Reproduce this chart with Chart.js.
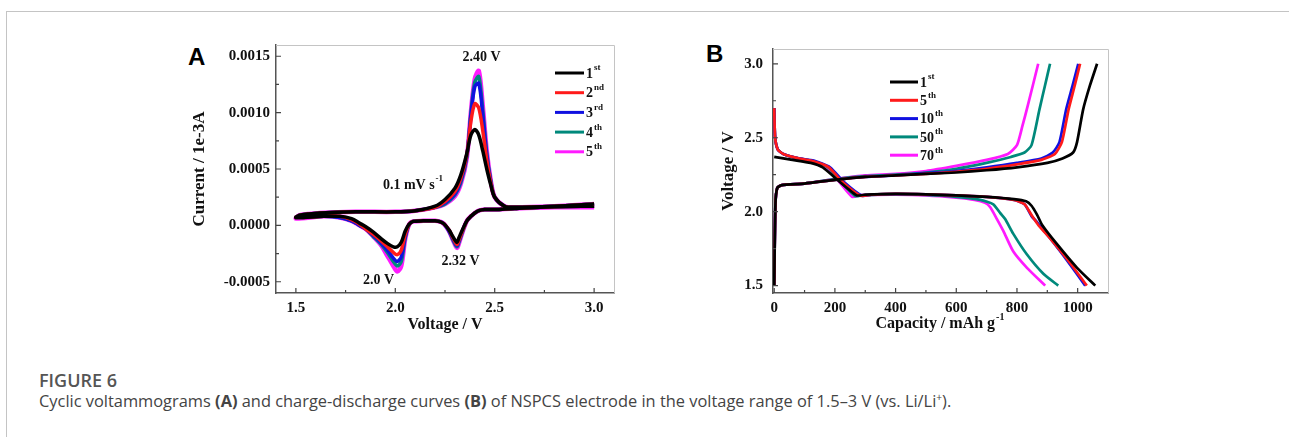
<!DOCTYPE html>
<html>
<head>
<meta charset="utf-8">
<script src="https://cdn.jsdelivr.net/npm/chart.js@4.4.1/dist/chart.umd.min.js"></script>
<style>
	body {
		margin: 0;
		width: 1289px;
		height: 437px;
		overflow: hidden;
		position: relative;
		background: #fff;
	}
	.frame {
		position: absolute;
		left: 6px;
		top: 11px;
		right: 0;
		bottom: 0;
		border-top: 1px solid #c4c4c4;
		border-left: 1px solid #c4c4c4;
	}
	canvas {
		position: absolute;
	}
	#cv-chart {
		left: 185px;
		top: 30px;
	}
	#gcd-chart {
		left: 714px;
		top: 30px;
	}
	.panel {
		position: absolute;
		font: bold 24px "Liberation Sans", Arial, sans-serif;
		line-height: 24px;
		color: #000;
	}
	.fig-label {
		position: absolute;
		left: 39px;
		top: 368px;
		font: 600 18px "Open Sans", sans-serif;
		color: #555;
	}
	.fig-caption {
		position: absolute;
		left: 39px;
		top: 389px;
		font: 16.4px "Open Sans", sans-serif;
		color: #444;
		white-space: nowrap;
	}
	.fig-caption b {
		font-weight: 700;
	}
</style>
</head>
<body>
<div class="frame"></div>
<div class="panel" style="left: 188px; top: 45px">A</div>
<div class="panel" style="left: 706px; top: 42px">B</div>
<canvas id="cv-chart" width="445" height="308"></canvas>
<canvas id="gcd-chart" width="411" height="308"></canvas>
<div class="fig-label">FIGURE 6</div>
<div class="fig-caption">Cyclic voltammograms <b>(A)</b> and charge-discharge curves <b>(B)</b> of NSPCS electrode in the voltage range of 1.5–3 V (vs. Li/Li<sup style="font-size: 10px">+</sup>).</div>
<script>
// ---- panel A: cyclic voltammograms (cathodic sweep 3.0 -> 1.5, then anodic 1.5 -> 3.0)
const cvVoltage = [
	3.0, 2.8, 2.6, 2.5, 2.45, 2.42, 2.4, 2.38, 2.36, 2.34, 2.32, 2.31, 2.29, 2.27, 2.24, 2.2,
	2.14, 2.09, 2.07, 2.05, 2.03, 2.01, 1.99, 1.96, 1.93, 1.89, 1.85, 1.82, 1.78, 1.72, 1.64, 1.5,
	1.52, 1.56, 1.62, 1.8, 2.0, 2.1, 2.2, 2.25, 2.3, 2.33, 2.36, 2.38, 2.4, 2.42, 2.44, 2.46,
	2.48, 2.5, 2.55, 2.6, 2.8, 3.0,
];
const cvCurrent1st = [
	0.00017, 0.000165, 0.00015, 0.00014, 0.00014, 0.00013, 0.00011, 0.00008, 0.00004, -0.00003, -0.00011, -0.00015, -0.0001, -0.00004, 0.00002, 0.00004,
	0.00004, 0.000035, 0.00001, -0.00005, -0.00015, -0.00019, -0.00019, -0.00016, -0.00012, -0.00006, -0.00001, 0.00002, 0.00006, 0.00008, 0.00008, 0.00007,
	0.00009, 0.0001, 0.00011, 0.00012, 0.00012, 0.00013, 0.00017, 0.00023, 0.00033, 0.00045, 0.00064, 0.0008, 0.00085, 0.0008, 0.00066, 0.0005,
	0.00036, 0.00025, 0.00017, 0.00016, 0.00017, 0.00019,
];
const cvCurrent2nd = [
	0.00017, 0.000165, 0.00015, 0.00014, 0.00014, 0.00013, 0.00011, 0.00008, 0.00004, -0.00004, -0.00013, -0.00017, -0.00011, -0.00004, 0.00002, 0.00004,
	0.00004, 0.000035, 0.00001, -0.00008, -0.00022, -0.00026, -0.00024, -0.00019, -0.00014, -0.00008, -0.00003, 0.00001, 0.00005, 0.00008, 0.00008, 0.00007,
	0.00009, 0.0001, 0.00011, 0.00012, 0.00012, 0.00013, 0.00016, 0.00021, 0.0003, 0.00042, 0.00063, 0.00092, 0.00108, 0.00104, 0.00084, 0.00058,
	0.00038, 0.00025, 0.00017, 0.00016, 0.00017, 0.00019,
];
const cvCurrent3rd = [
	0.00017, 0.000165, 0.00015, 0.00014, 0.00014, 0.00013, 0.00011, 0.00008, 0.00004, -0.00004, -0.00014, -0.00018, -0.00012, -0.00005, 0.00002, 0.00004,
	0.00004, 0.000035, 0.00001, -0.0001, -0.00028, -0.00032, -0.00029, -0.00022, -0.00016, -0.00009, -0.00003, 0.0, 0.00004, 0.00007, 0.00008, 0.00007,
	0.00009, 0.0001, 0.00011, 0.00012, 0.00012, 0.00013, 0.00016, 0.0002, 0.00028, 0.0004, 0.00062, 0.00097, 0.00123, 0.00126, 0.00098, 0.00062,
	0.00039, 0.00025, 0.00017, 0.00016, 0.00017, 0.00019,
];
const cvCurrent4th = [
	0.00017, 0.000165, 0.00015, 0.00014, 0.00014, 0.00013, 0.00011, 0.00008, 0.00004, -0.00005, -0.00015, -0.00019, -0.00013, -0.00005, 0.00002, 0.00004,
	0.00004, 0.000035, 0.00001, -0.00011, -0.00032, -0.00036, -0.00032, -0.00024, -0.00017, -0.0001, -0.00003, 0.0, 0.00004, 0.00007, 0.00008, 0.00007,
	0.00009, 0.0001, 0.00011, 0.00012, 0.00012, 0.00013, 0.00016, 0.00019, 0.00027, 0.00038, 0.00061, 0.00099, 0.00127, 0.00132, 0.00102, 0.00064,
	0.0004, 0.00025, 0.00017, 0.00016, 0.00017, 0.00019,
];
const cvCurrent5th = [
	0.00016, 0.00016, 0.00015, 0.00014, 0.00014, 0.00013, 0.00011, 0.00008, 0.00004, -0.00005, -0.00016, -0.0002, -0.00013, -0.00005, 0.00002, 0.00004,
	0.00004, 0.000035, 0.00001, -0.00012, -0.00036, -0.00041, -0.00036, -0.00027, -0.00018, -0.0001, -0.00003, 0.0, 0.00004, 0.00007, 0.00008, 0.00006,
	0.00009, 0.0001, 0.00011, 0.00012, 0.00012, 0.00013, 0.00016, 0.00019, 0.00026, 0.00037, 0.0006, 0.001, 0.0013, 0.00137, 0.00106, 0.00066,
	0.0004, 0.00025, 0.00017, 0.00016, 0.00017, 0.00019,
];
const cvCycles = ["1", "2", "3", "4", "5"];
const cvCycleSup = ["st", "nd", "rd", "th", "th"];
const cvTicksX = [1.5, 2.0, 2.5, 3.0];
const cvTicksY = [-0.0005, 0.0, 0.0005, 0.001, 0.0015];

// ---- panel B: charge-discharge curves, [capacity mAh/g, voltage V]
const charge1st = [[0, 1.5], [4, 2.05], [10, 2.16], [25, 2.18], [100, 2.19], [200, 2.215], [300, 2.235], [400, 2.245], [500, 2.255], [600, 2.265], [700, 2.28], [800, 2.3], [900, 2.33], [950, 2.36], [985, 2.4], [998, 2.47], [1018, 2.69], [1040, 2.85], [1064, 3.0]];
const charge5th = [[0, 1.5], [4, 2.05], [10, 2.16], [25, 2.18], [100, 2.19], [200, 2.215], [300, 2.235], [400, 2.245], [500, 2.255], [600, 2.27], [700, 2.29], [800, 2.32], [880, 2.35], [925, 2.39], [948, 2.47], [970, 2.69], [990, 2.85], [1008, 3.0]];
const charge10th = [[0, 1.5], [4, 2.05], [10, 2.16], [25, 2.18], [100, 2.19], [200, 2.215], [300, 2.235], [400, 2.245], [500, 2.26], [600, 2.275], [700, 2.3], [800, 2.33], [880, 2.36], [918, 2.4], [940, 2.47], [962, 2.69], [983, 2.85], [1002, 3.0]];
const charge50th = [[0, 1.5], [4, 2.05], [10, 2.16], [25, 2.18], [100, 2.19], [200, 2.22], [300, 2.24], [400, 2.25], [500, 2.265], [600, 2.29], [700, 2.33], [780, 2.37], [825, 2.4], [848, 2.45], [874, 2.69], [892, 2.85], [909, 3.0]];
const charge70th = [[0, 1.55], [4, 2.05], [10, 2.16], [25, 2.18], [100, 2.19], [200, 2.22], [300, 2.245], [400, 2.255], [500, 2.275], [600, 2.31], [700, 2.35], [770, 2.39], [800, 2.45], [818, 2.58], [836, 2.72], [870, 3.0]];

const discharge1st = [[0, 2.37], [60, 2.35], [120, 2.33], [160, 2.3], [200, 2.23], [240, 2.16], [272, 2.11], [300, 2.115], [400, 2.12], [500, 2.117], [600, 2.11], [700, 2.1], [790, 2.085], [830, 2.07], [848, 2.04], [866, 1.98], [883, 1.91], [932, 1.78], [998, 1.62], [1058, 1.5]];
const discharge5th = [[0, 2.7], [3, 2.5], [12, 2.42], [30, 2.39], [80, 2.36], [130, 2.34], [180, 2.3], [225, 2.2], [285, 2.107], [320, 2.115], [400, 2.12], [500, 2.117], [600, 2.11], [700, 2.1], [790, 2.08], [825, 2.05], [850, 1.97], [870, 1.91], [905, 1.83], [965, 1.68], [1030, 1.5]];
const discharge10th = [[0, 2.7], [3, 2.5], [12, 2.42], [30, 2.39], [80, 2.36], [130, 2.345], [184, 2.3], [230, 2.2], [290, 2.107], [320, 2.115], [400, 2.12], [500, 2.117], [600, 2.11], [700, 2.1], [790, 2.08], [825, 2.05], [848, 1.97], [866, 1.93], [909, 1.82], [965, 1.67], [1025, 1.5]];
const discharge50th = [[0, 2.7], [3, 2.5], [12, 2.42], [30, 2.39], [80, 2.36], [130, 2.34], [178, 2.3], [220, 2.2], [267, 2.105], [290, 2.11], [400, 2.118], [500, 2.113], [600, 2.1], [680, 2.08], [722, 2.05], [745, 1.99], [761, 1.95], [788, 1.85], [833, 1.71], [887, 1.58], [936, 1.5]];
const discharge70th = [[0, 2.7], [3, 2.5], [12, 2.42], [30, 2.39], [80, 2.36], [130, 2.34], [174, 2.3], [215, 2.2], [257, 2.1], [280, 2.11], [300, 2.113], [400, 2.115], [500, 2.11], [600, 2.095], [660, 2.08], [695, 2.06], [712, 2.03], [734, 1.95], [755, 1.87], [788, 1.73], [833, 1.62], [893, 1.5]];
const gcdCycles = ["1", "5", "10", "50", "70"];
const gcdCycleSup = ["st", "th", "th", "th", "th"];
const gcdTicksX = [0, 200, 400, 600, 800, 1000];
const gcdTicksY = [1.5, 2.0, 2.5, 3.0];

const cycleColors = ["#000000", "#ff1a1a", "#1010e0", "#00897b", "#ff1aff"];
const SERIF = '"Liberation Serif", "Times New Roman", serif';

function SupText(ctx, base, sup, x, y, size, align) {
	ctx.font = `bold ${size}px ${SERIF}`;
	const w1 = ctx.measureText(base).width;
	const supSize = Math.round(size * 0.62);
	ctx.font = `bold ${supSize}px ${SERIF}`;
	const w2 = ctx.measureText(sup).width;
	const start = align === "center" ? x - (w1 + w2 + 1) / 2 : x;
	ctx.textAlign = "left";
	ctx.textBaseline = "middle";
	ctx.font = `bold ${size}px ${SERIF}`;
	ctx.fillText(base, start, y);
	ctx.font = `bold ${supSize}px ${SERIF}`;
	ctx.fillText(sup, start + w1 + 1, y - size * 0.42);
}

const frameDecor = {
	id: "frameDecor",
	afterDraw(chart, args, opts) {
		const { ctx, chartArea: a, scales } = chart;
		const sx = scales.x;
		const sy = scales.y;
		ctx.save();

		// light box on the top and right
		ctx.strokeStyle = "#c4c4c4";
		ctx.lineWidth = 1;
		ctx.beginPath();
		ctx.moveTo(a.left, a.top + 0.5);
		ctx.lineTo(a.right + 0.5, a.top + 0.5);
		ctx.lineTo(a.right + 0.5, a.bottom);
		ctx.stroke();

		// inward major and minor ticks
		ctx.strokeStyle = "#444";
		ctx.lineWidth = 1.2;
		ctx.beginPath();
		opts.ticksX.forEach((v, i) => {
			const px = sx.getPixelForValue(v);
			ctx.moveTo(px, a.bottom);
			ctx.lineTo(px, a.bottom - 5);
			if (i > 0) {
				const mx = sx.getPixelForValue((v + opts.ticksX[i - 1]) / 2);
				ctx.moveTo(mx, a.bottom);
				ctx.lineTo(mx, a.bottom - 3);
			}
		});
		opts.ticksY.forEach((v, i) => {
			const py = sy.getPixelForValue(v);
			ctx.moveTo(a.left, py);
			ctx.lineTo(a.left + 5, py);
			if (i > 0) {
				const my = sy.getPixelForValue((v + opts.ticksY[i - 1]) / 2);
				ctx.moveTo(a.left, my);
				ctx.lineTo(a.left + 3, my);
			}
		});
		ctx.stroke();

		// legend
		const lg = opts.legend;
		ctx.lineWidth = 3;
		lg.labels.forEach((lab, i) => {
			const y = lg.y0 + i * lg.dy;
			ctx.strokeStyle = lg.colors[i];
			ctx.beginPath();
			ctx.moveTo(lg.x1, y);
			ctx.lineTo(lg.x2, y);
			ctx.stroke();
			ctx.fillStyle = "#111";
			SupText(ctx, lab, lg.sups[i], lg.x2 + 2, y + 1, lg.size, "left");
		});

		// notes and superscripted titles
		ctx.fillStyle = "#111";
		(opts.notes || []).forEach((n) => {
			SupText(ctx, n.text, n.sup, n.x, n.y, n.size, "center");
		});
		ctx.restore();
	},
};

function AxisFont(size) {
	return { family: SERIF, size: size, weight: "bold" };
}

function BuildScales(xr, yr) {
	return {
		x: {
			type: "linear",
			min: xr.min,
			max: xr.max,
			afterBuildTicks: (s) => {
				s.ticks = xr.ticks.map((v) => ({ value: v }));
			},
			afterFit: (s) => {
				s.height = 45;
			},
			grid: { drawOnChartArea: false, drawTicks: false },
			border: { color: "#555", width: 1.5 },
			ticks: {
				padding: 6,
				color: "#111",
				font: AxisFont(15),
				callback: xr.format,
			},
			title: {
				display: xr.title !== "",
				text: xr.title,
				color: "#111",
				font: AxisFont(16),
				padding: { top: 0, bottom: 4 },
			},
		},
		y: {
			type: "linear",
			min: yr.min,
			max: yr.max,
			afterBuildTicks: (s) => {
				s.ticks = yr.ticks.map((v) => ({ value: v }));
			},
			afterFit: (s) => {
				s.width = yr.width;
			},
			grid: { drawOnChartArea: false, drawTicks: false },
			border: { color: "#555", width: 1.5 },
			ticks: {
				padding: yr.pad,
				color: "#111",
				font: AxisFont(15),
				callback: yr.format,
			},
			title: {
				display: true,
				text: yr.title,
				color: "#111",
				font: AxisFont(17),
			},
		},
	};
}

function PrepareCvChart() {
	const ctx = document.getElementById("cv-chart").getContext("2d");
	const series = [cvCurrent1st, cvCurrent2nd, cvCurrent3rd, cvCurrent4th, cvCurrent5th];

	new Chart(ctx, {
		type: "scatter",
		data: {
			datasets: series.map((cur, i) => ({
				label: cvCycles[i] + cvCycleSup[i],
				data: cvVoltage.map((v, k) => ({ x: v, y: cur[k] })),
				borderColor: cycleColors[i],
				borderWidth: i === 4 ? 4.5 : 3.5,
				showLine: true,
				pointRadius: 0,
				tension: 0.3,
			})),
		},
		options: {
			responsive: false,
			animation: false,
			devicePixelRatio: 1,
			layout: { padding: { top: 15, right: 16, left: 0, bottom: 0 } },
			scales: BuildScales(
				{ min: 1.4, max: 3.1, ticks: cvTicksX, format: (v) => v.toFixed(1), title: "Voltage / V" },
				{ min: -0.0006, max: 0.0016, ticks: cvTicksY, format: (v) => v.toFixed(4), title: "Current / 1e-3A", width: 91, pad: 6 }
			),
			plugins: {
				legend: { display: false },
				tooltip: { enabled: false },
				frameDecor: {
					ticksX: cvTicksX,
					ticksY: cvTicksY,
					legend: { labels: cvCycles, sups: cvCycleSup, colors: cycleColors, x1: 370, x2: 399, y0: 43, dy: 19.7, size: 14 },
					notes: [
						{ text: "2.40 V", sup: "", x: 297, y: 27, size: 14 },
						{ text: "0.1 mV s", sup: "-1", x: 228, y: 155, size: 14 },
						{ text: "2.0 V", sup: "", x: 194, y: 250, size: 14 },
						{ text: "2.32 V", sup: "", x: 276, y: 231, size: 14 },
					],
				},
			},
		},
		plugins: [frameDecor],
	});
}

function PrepareGcdChart() {
	const ctx = document.getElementById("gcd-chart").getContext("2d");
	const charges = [charge1st, charge5th, charge10th, charge50th, charge70th];
	const discharges = [discharge1st, discharge5th, discharge10th, discharge50th, discharge70th];
	const datasets = [];
	charges.forEach((curve, i) => {
		[curve, discharges[i]].forEach((pts) => {
			datasets.push({
				label: gcdCycles[i] + gcdCycleSup[i],
				data: pts.map((p) => ({ x: p[0], y: p[1] })),
				borderColor: cycleColors[i],
				borderWidth: 2.7,
				showLine: true,
				pointRadius: 0,
				tension: 0.2,
			});
		});
	});

	new Chart(ctx, {
		type: "scatter",
		data: { datasets: datasets },
		options: {
			responsive: false,
			animation: false,
			devicePixelRatio: 1,
			layout: { padding: { top: 16, right: 17, left: 0, bottom: 0 } },
			scales: BuildScales(
				{ min: -4, max: 1100, ticks: gcdTicksX, format: (v) => String(v), title: "" },
				{ min: 1.45, max: 3.1, ticks: gcdTicksY, format: (v) => v.toFixed(1), title: "Voltage / V", width: 59, pad: 10 }
			),
			plugins: {
				legend: { display: false },
				tooltip: { enabled: false },
				frameDecor: {
					ticksX: gcdTicksX,
					ticksY: gcdTicksY,
					legend: { labels: gcdCycles, sups: gcdCycleSup, colors: cycleColors, x1: 176, x2: 204, y0: 52, dy: 18.3, size: 14 },
					notes: [{ text: "Capacity / mAh g", sup: "-1", x: 226, y: 294, size: 16 }],
				},
			},
		},
		plugins: [frameDecor],
	});
}

PrepareCvChart();
PrepareGcdChart();
</script>
</body>
</html>
